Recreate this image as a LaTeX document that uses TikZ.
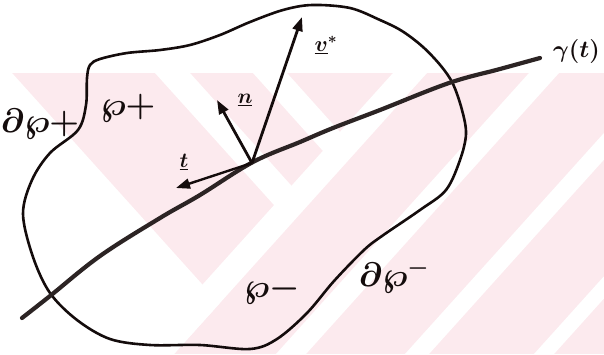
\RequirePackage{fix-cm}
\documentclass[tikz,border=0pt]{standalone}
\usetikzlibrary{arrows.meta}
\definecolor{wm}{RGB}{252,234,238}
\definecolor{ink}{RGB}{20,12,12}
\tikzset{
  blobline/.style={draw=ink, line width=2.6pt, line join=round},
  curveline/.style={draw=ink!90!white, line width=4.2pt, line cap=round},
  vecline/.style={draw=ink, line width=2.8pt, -{Triangle[length=14pt,width=10pt]}},
  lbl/.style={text=ink, inner sep=0pt},
  bigP/.style={lbl, font=\fontsize{34}{40}\selectfont\boldmath},
  smallv/.style={lbl, font=\fontsize{22}{26}\selectfont\boldmath},
}
\begin{document}
\begin{tikzpicture}[x=1pt,y=-1pt]
\useasboundingbox (0,0) rectangle (604,354);
\fill[white] (0,0) rectangle (604,354);
% faint watermark
\begin{scope}
\clip (12,73) rectangle (604,354);
\fill[wm] (12,73) rectangle (604,354);
\fill[white] (0,73) -- (12,73) -- (219.5,303.5) -- (174,354) -- (0,354) -- cycle;
\fill[white] (393,73) -- (427,73) -- (174,354) -- (140,354) -- cycle;
\fill[white] (155,73) -- (190,73) -- (308.5,204.7) -- (274,205) -- cycle;
\fill[white] (253,73) -- (287,73) -- (357,151) -- (323,151) -- cycle;
\fill[white] (529,73) -- (559,73) -- (306,354) -- (276,354) -- cycle;
\fill[white] (658,73) -- (682,73) -- (429,354) -- (405,354) -- cycle;
\fill[white] (787,73) -- (807,73) -- (554,354) -- (534,354) -- cycle;
\end{scope}
% region boundary
\draw[blobline] plot[smooth cycle, tension=0.55] coordinates {
 (90,65) (100,59) (127,53) (160,50) (190,45) (220,35) (250,22) (283,10) (312,5)
 (350,8) (380,20) (402,31) (423,47) (441,66) (453,84) (462,110) (466,134)
 (460,160) (446,190) (420,210) (382,236) (364,250) (334,281) (307,313)
 (277,339) (250,349) (200,345) (150,345) (110,339) (77,320) (50,293)
 (33,257) (23,214) (32,180) (50,153) (78,130) (86,105) (87,78)};
% curve gamma(t)
\draw[curveline] plot[smooth, tension=0.6] coordinates {
 (22,318) (50,296) (100,256) (160,218) (200,195) (253,162) (300,142)
 (333,128) (380,110) (449,83) (500,69) (540,58)};
% vectors
\coordinate (O) at (252,163);
\coordinate (vtip) at (302,17);
\coordinate (ntip) at (217,100);
\coordinate (ttip) at (176,188);
\draw[vecline] (O) -- (vtip);
\draw[vecline] (O) -- (ntip);
\draw[vecline, line width=2.4pt] (O) -- (ttip);
% labels
\node[lbl, font=\fontsize{24}{28}\selectfont\boldmath, anchor=west] (gam) at (553,51) {$\gamma(t)$};
\node[smallv] (vlab) at (326,45) {$\underline{v}^{*}$};
\node[smallv, font=\fontsize{21}{25}\selectfont\boldmath] (nlab) at (245,100) {$\underline{n}$};
\node[smallv, font=\fontsize{21}{25}\selectfont\boldmath] (tlab) at (184,162) {$\underline{t}$};
\node[bigP] (dPp) at (40,124) {$\partial\wp{+}$};
\node[bigP] (Pp) at (128,108) {$\wp{+}$};
\node[bigP] (Pm) at (272,290) {$\wp{-}$};
\node[bigP] (dPm) at (394,276) {$\partial\wp^{-}$};
\end{tikzpicture}
\end{document}
